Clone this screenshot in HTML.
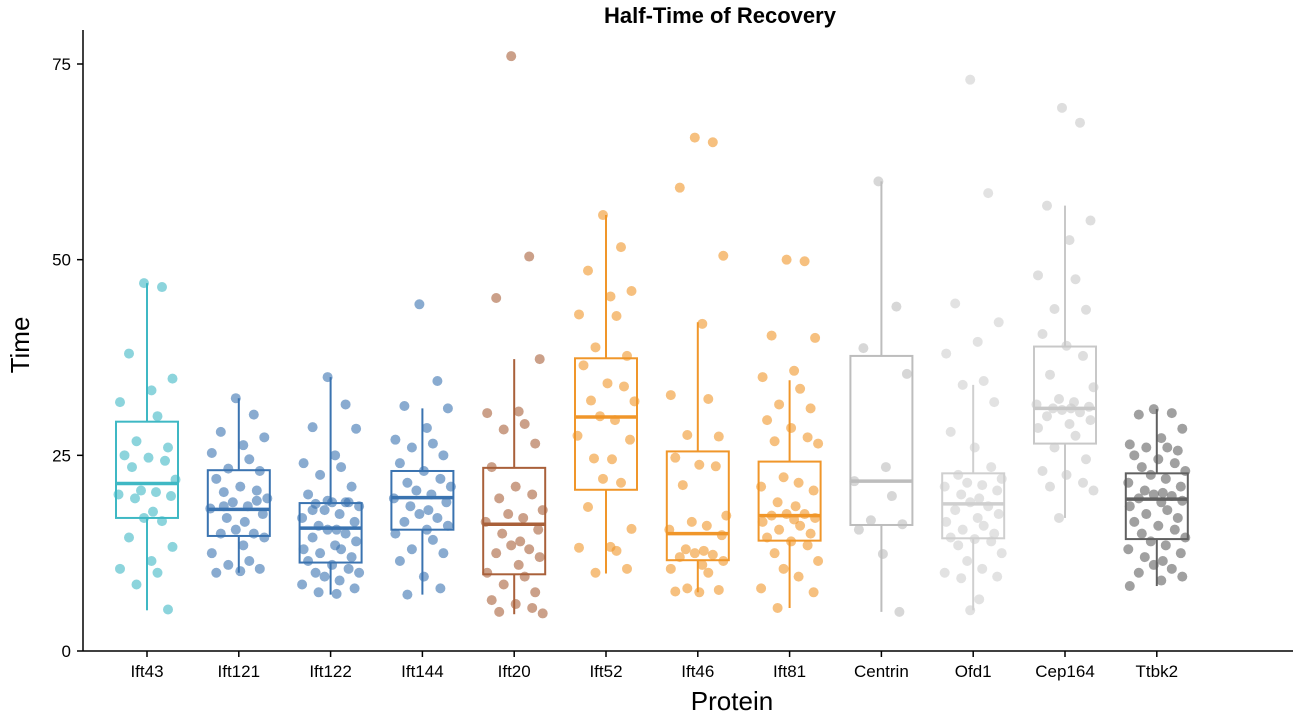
<!DOCTYPE html>
<html><head><meta charset="utf-8"><style>
body{margin:0;background:#fff;}
svg{display:block;font-family:"Liberation Sans",Arial,sans-serif;}
</style></head><body>
<svg id="chart" width="1293" height="723" viewBox="0 0 1293 723">
<text x="720" y="23" text-anchor="middle" font-size="22" font-weight="bold">Half-Time of Recovery</text>
<text transform="translate(29,345) rotate(-90)" text-anchor="middle" font-size="26">Time</text>
<text x="732" y="710" text-anchor="middle" font-size="26">Protein</text>
<g id="plot"></g>
</svg>
<script>
const categories=["Ift43","Ift121","Ift122","Ift144","Ift20","Ift52","Ift46","Ift81","Centrin","Ofd1","Cep164","Ttbk2"];
const colors=["#3fb8c4","#3a73b0","#3a73b0","#3a73b0","#a9603a","#f0962a","#f0962a","#f0962a","#bdbdbd","#cfcfcf","#c8c8c8","#606060"];
const q1=[17,14.7,11.3,15.5,9.8,20.6,11.6,14.1,16.1,14.4,26.5,14.3];
const med=[21.4,18.1,15.7,19.6,16.2,29.9,15,17.3,21.7,18.8,31,19.4];
const q3=[29.3,23.1,18.9,23,23.4,37.4,25.5,24.2,37.7,22.7,38.9,22.7];
const wLo=[5.2,10,7.2,7.2,4.7,9.9,7.5,5.5,5,5.2,17,8.3];
const wHi=[47,32.3,35,31,37.3,55.7,42,34.6,60,34,56.9,30.9];
const yTicks=[0,25,50,75];
const pts0=[47,46.5,38,34.8,33.3,31.8,30,26.8,26,25,24.7,24.3,23.5,21.9,20.5,20.3,20,19.8,19.5,17.8,17,16.6,14.5,13.3,11.5,10.5,10,8.5,5.3];
const pts1=[32.3,30.2,28,27.3,26.3,25.3,24.5,23.3,23,22,21,20.5,20.3,19.5,19,18.5,18.2,17.5,17,16.5,15.5,15,15,14.5,13.5,12.5,11.5,11,10.5,10,10.2,19.2,18.5];
const pts2=[35,31.5,28.6,28.4,25,24,23.5,22.5,21,20,19,19,18.8,18.5,18,17.5,17,16.5,16,15.5,15.5,15,14.5,14,13.5,13,13,12.5,12,11.5,11,10.5,10,10,9.5,9,8.5,8,7.5,7.3,19.2,19,18];
const pts3=[44.3,34.5,31.3,31,28.5,27,26.5,26,25,24,23,22,21.5,21,20.5,20,19.5,19,18.5,18,17.5,17,16.5,16,15.5,15,14.2,13,12.5,11.5,9.5,8,7.2];
const pts4=[76,50.4,45.1,37.3,30.6,30.4,29,28.3,26.5,23.5,21,20,19.5,18,17.5,17,16.5,15.5,15,14,13.5,13,12.5,12,11,10,9.5,8.5,7.5,6.5,6,5.5,5,4.8];
const pts5=[55.7,51.6,48.6,46,45.3,43,42.8,38.8,37.7,36.5,34.2,33.8,32,31.9,30,29.5,27.5,27,24.6,24.5,22,21.5,18.4,15.6,13.3,13.2,12.8,10,10.5];
const pts6=[65.6,65,59.2,50.5,41.8,32.7,32.2,27.6,27.4,24.7,23.8,23.6,21.2,17.3,16.5,16,15.5,14.8,13,12.8,12.5,12.3,12,11.5,11,10.5,10,8,7.8,7.6,7.5];
const pts7=[50,49.8,40.3,40,35.8,35,33.5,31.5,31,29.5,28.5,27.3,26.8,26.5,22.2,21.5,21,20.5,19,18.5,17.5,17.5,17.3,17,16.8,16.5,16,15.5,15,14.5,14,13.5,12.5,11.5,10.5,9.5,8,7.5,5.5];
const pts8=[60,44,38.7,35.4,23.5,21.7,19.8,16.7,16.2,15.5,12.4,5];
const pts9=[73,58.5,44.4,42,39.5,38,34.5,34,31.8,28,26,23.5,22.5,22,21.5,21.2,21,20.5,20,19.5,19,18.5,18,17.5,17,16.5,16,15.5,15,14.5,14.3,14,13.5,12.5,11.5,10.5,10,9.5,9.3,6.6,5.2];
const pts10=[69.4,67.5,56.9,55,52.5,48,47.5,43.7,43.6,40.5,39,37.7,35.3,33.7,32.2,31.8,31.5,31.2,31,31,30.8,30.5,30,29.5,29,28.5,27.5,26,24.5,23,22.5,21.5,21,20.5,17];
const pts11=[30.9,30.4,30.2,28.4,27.2,26.4,26,26,25.6,25,24.5,24,23.5,23,22.5,22,21.5,21,20.5,20.2,20,19.8,19.5,19.2,19,18.5,18,17.5,17,16.5,16,15.5,15,14.5,14,13.5,13,12.5,12,11.5,11,10.5,10,9.5,9,8.3];
const points=[pts0,pts1,pts2,pts3,pts4,pts5,pts6,pts7,pts8,pts9,pts10,pts11];
const jit=[-0.1,0.5,-0.6,0.85,0.15,-0.9,0.35,-0.35,0.7,-0.75,0.05,0.6,-0.5,0.95,-0.2,0.3,-0.95,0.8,-0.4,0.2];

const NS="http://www.w3.org/2000/svg";
const g=document.getElementById('plot');
const x0=147,dx=91.8,y0=651,ky=(651-64)/75;
const xs=i=>x0+i*dx;
const ys=v=>y0-v*ky;
function mk(t,a){const e=document.createElementNS(NS,t);for(const k in a)e.setAttribute(k,a[k]);g.appendChild(e);return e;}
const hw=31;
categories.forEach((c,i)=>{
  const cx=xs(i),col=colors[i];
  let e=mk('line',{x1:cx,x2:cx,y1:ys(wLo[i]),y2:ys(q1[i]),stroke:col,'stroke-width':2});
  
  
  e=mk('line',{x1:cx,x2:cx,y1:ys(q3[i]),y2:ys(wHi[i]),stroke:col,'stroke-width':2});
  
  
  e=mk('rect',{x:cx-hw,y:ys(q3[i]),width:hw*2,height:ys(q1[i])-ys(q3[i]),fill:'none',stroke:col,'stroke-width':2});
  
  
  e=mk('line',{x1:cx-hw,x2:cx+hw,y1:ys(med[i]),y2:ys(med[i]),stroke:col,'stroke-width':3.5});
  
  
  points[i].forEach((v,j)=>{
    const p=mk('circle',{cx:cx+jit[j%jit.length]*30,cy:ys(v),r:5,fill:col,'fill-opacity':0.6});
    
    
  });
  const t=mk('text',{x:cx,y:677,'text-anchor':'middle','font-size':17});
  t.textContent=c;
  
  
  const tk=mk('line',{x1:cx,x2:cx,y1:651,y2:657,stroke:'#000','stroke-width':1.5});
  
  
});
yTicks.forEach(v=>{
  const t=mk('text',{x:71,y:ys(v)+6,'text-anchor':'end','font-size':17});
  t.textContent=v;
  
  
  const tk=mk('line',{x1:77,x2:83,y1:ys(v),y2:ys(v),stroke:'#000','stroke-width':1.5});
  
  
});
let ax=mk('line',{x1:83,x2:83,y1:30,y2:651,stroke:'#000','stroke-width':1.5});


ax=mk('line',{x1:83,x2:1293,y1:651,y2:651,stroke:'#000','stroke-width':1.5});


</script>
</body></html>
